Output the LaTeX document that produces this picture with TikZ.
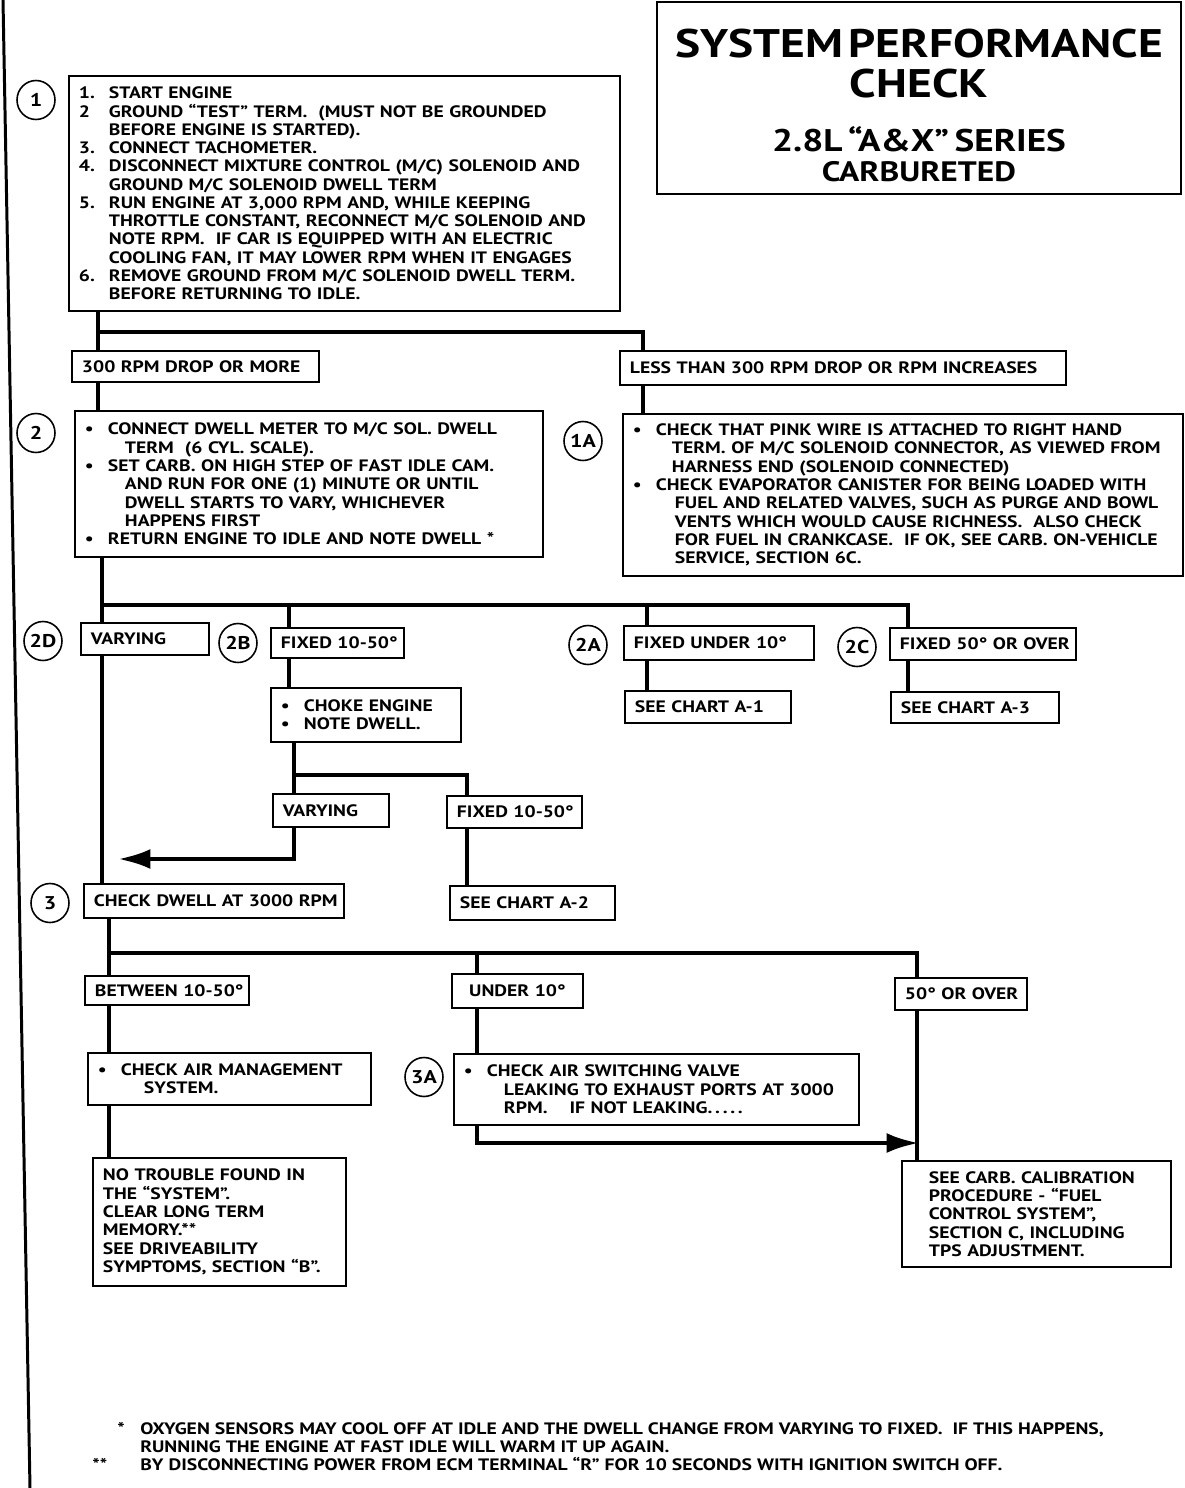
\documentclass[tikz,border=0pt]{standalone}
\usepackage{fontspec}
\setmainfont{PT Sans}[FakeStretch=1.19]
\usetikzlibrary{arrows.meta,shapes.geometric}

\newcommand{\chartfont}{\bfseries\fontsize{9.4}{10.4}\selectfont}
\newcommand{\nr}[1]{\makebox[0.6cm][l]{#1}}
\newcommand{\bul}{\makebox[0.46cm][l]{\textbullet}}

\begin{document}
\begin{tikzpicture}[x=0.02cm, y=-0.02cm, every node/.style={font=\chartfont}, >={Latex[length=6.5mm,width=4mm]},
	box/.style={draw, line width=1.1pt, anchor=north west, inner xsep=0.2cm, inner ysep=0.1cm, align=left},
	tag/.style={draw, ellipse, line width=0.9pt, minimum width=0.76cm, minimum height=0.78cm, inner sep=0pt, font=\bfseries\fontsize{10.5}{10.5}\selectfont},
	flow/.style={line width=2.6pt}]
	\useasboundingbox[fill=white] (0,0) rectangle (1184,1488);
	\draw[line width=1.7pt] (3,0) -- (30,1488);
	% title
	\node[draw, line width=0.9pt, minimum width=10.48cm, minimum height=3.84cm, text width=10cm, align=center] (title) at (919,98)
		{{\fontsize{22.7}{23}\selectfont \rule{0pt}{24.5pt}SYSTEM PERFORMANCE\\CHECK\par}\vspace{13pt}
		{\fontsize{17.8}{17.8}\selectfont 2.8L “A\&X” SERIES\par}
		{\fontsize{16}{17}\selectfont CARBURETED\par}};
	% step 1
	\node[box, text width=10.62cm, minimum height=4.70cm] (b1) at (68,75)
		{\nr{1.}START ENGINE\\
		\nr{2}GROUND “TEST” TERM.\ \ (MUST NOT BE GROUNDED\\
		\nr{}BEFORE ENGINE IS STARTED).\\
		\nr{3.}CONNECT TACHOMETER.\\
		\nr{4.}DISCONNECT MIXTURE CONTROL (M/C) SOLENOID AND\\
		\nr{}GROUND M/C SOLENOID DWELL TERM\\
		\nr{5.}RUN ENGINE AT 3,000 RPM AND, WHILE KEEPING\\
		\nr{}THROTTLE CONSTANT, RECONNECT M/C SOLENOID AND\\
		\nr{}NOTE RPM.\ \ IF CAR IS EQUIPPED WITH AN ELECTRIC\\
		\nr{}COOLING FAN, IT MAY LOWER RPM WHEN IT ENGAGES\\
		\nr{6.}REMOVE GROUND FROM M/C SOLENOID DWELL TERM.\\
		\nr{}BEFORE RETURNING TO IDLE.};
	\node[box, text width=4.54cm, minimum height=0.62cm] (drop) at (71,350) {\mbox{300 RPM DROP OR MORE}};
	\node[box, text width=8.52cm, minimum height=0.68cm] (less) at (619,350) {\mbox{LESS THAN 300 RPM DROP OR RPM INCREASES}};
	% step 2 and 1A
	\node[box, text width=8.96cm, minimum height=2.92cm] (b2) at (74,410)
		{\bul CONNECT DWELL METER TO M/C SOL. DWELL\\
		\hspace*{0.8cm}TERM\ \ (6 CYL. SCALE).\\
		\bul SET CARB. ON HIGH STEP OF FAST IDLE CAM.\\
		\hspace*{0.8cm}AND RUN FOR ONE (1) MINUTE OR UNTIL\\
		\hspace*{0.8cm}DWELL STARTS TO VARY, WHICHEVER\\
		\hspace*{0.8cm}HAPPENS FIRST\\
		\bul RETURN ENGINE TO IDLE AND NOTE DWELL *};
	\node[box, text width=10.80cm, minimum height=3.24cm] (b1a) at (622,413)
		{\bul CHECK THAT PINK WIRE IS ATTACHED TO RIGHT HAND\\
		\hspace*{0.78cm}\mbox{TERM. OF M/C SOLENOID CONNECTOR, AS VIEWED FROM}\\
		\hspace*{0.78cm}HARNESS END (SOLENOID CONNECTED)\\
		\bul CHECK EVAPORATOR CANISTER FOR BEING LOADED WITH\\
		\hspace*{0.84cm}\mbox{FUEL AND RELATED VALVES, SUCH AS PURGE AND BOWL}\\
		\hspace*{0.84cm}VENTS WHICH WOULD CAUSE RICHNESS.\ \ ALSO CHECK\\
		\hspace*{0.84cm}\mbox{FOR FUEL IN CRANKCASE.\ \ IF OK, SEE CARB. ON-VEHICLE}\\
		\hspace*{0.84cm}SERVICE, SECTION 6C.};
	% dwell results
	\node[box, text width=2.16cm, minimum height=0.64cm] (var1) at (80,622) {\mbox{VARYING}};
	\node[box, text width=2.26cm, minimum height=0.60cm] (fix1) at (270,627) {\mbox{FIXED 10-50°}};
	\node[box, text width=3.40cm, minimum height=0.68cm] (undr1) at (623,625) {\mbox{FIXED UNDER 10°}};
	\node[box, text width=3.32cm, minimum height=0.64cm] (over1) at (889,627) {\mbox{FIXED 50° OR OVER}};
	\node[box, text width=3.40cm, minimum height=1.08cm] (choke) at (270,687) {\bul CHOKE ENGINE\\\bul NOTE DWELL.};
	\node[box, text width=2.92cm, minimum height=0.64cm] (chA1) at (624,690) {\mbox{SEE CHART A-1}};
	\node[box, text width=2.96cm, minimum height=0.62cm] (chA3) at (890,691) {\mbox{SEE CHART A-3}};
	\node[box, text width=1.92cm, minimum height=0.66cm] (var2) at (272,793) {\mbox{VARYING}};
	\node[box, text width=2.30cm, minimum height=0.64cm] (fix2) at (446,795) {\mbox{FIXED 10-50°}};
	\node[box, text width=2.90cm, minimum height=0.68cm] (chA2) at (449,885) {\mbox{SEE CHART A-2}};
	% step 3
	\node[box, text width=4.80cm, minimum height=0.68cm] (dwell) at (83,883) {\mbox{CHECK DWELL AT 3000 RPM}};
	\node[box, text width=2.88cm, minimum height=0.58cm] (betw) at (84,975) {\mbox{BETWEEN 10-50°}};
	\node[box, text width=2.22cm, minimum height=0.68cm, align=center] (undr2) at (451,973) {\mbox{UNDER 10°}};
	\node[box, text width=2.24cm, minimum height=0.64cm, align=center] (over2) at (894,977) {\mbox{50° OR OVER}};
	\node[box, text width=5.26cm, minimum height=1.04cm] (airm) at (87,1052) {\bul CHECK AIR MANAGEMENT\\\hspace*{0.92cm}SYSTEM.};
	\node[box, text width=7.70cm, minimum height=1.42cm] (airsw) at (453,1053)
		{\bul CHECK AIR SWITCHING VALVE\\
		\hspace*{0.8cm}LEAKING TO EXHAUST PORTS AT 3000\\
		\hspace*{0.8cm}RPM.\ \ \ \ IF NOT LEAKING.\,.\,.\,.\,.};
	\node[box, text width=4.66cm, minimum height=2.56cm] (notr) at (92,1157)
		{NO TROUBLE FOUND IN\\THE “SYSTEM”.\\CLEAR LONG TERM\\MEMORY.**\\SEE DRIVEABILITY\\SYMPTOMS, SECTION “B”.};
	\node[box, text width=4.3cm, minimum width=5.38cm, minimum height=2.12cm] (carb) at (901,1160)
		{SEE CARB. CALIBRATION\\PROCEDURE - “FUEL\\CONTROL SYSTEM”,\\SECTION C, INCLUDING\\TPS ADJUSTMENT.};
	% step tags
	\node[tag] (t1) at (36,100) {1};
	\node[tag] (t2) at (36,433) {2};
	\node[tag] (t1a) at (583,441) {1A};
	\node[tag] (t2d) at (43,641) {2D};
	\node[tag] (t2b) at (238,643) {2B};
	\node[tag] (t2a) at (588,645) {2A};
	\node[tag] (t2c) at (857,647) {2C};
	\node[tag] (t3) at (50,903) {3};
	\node[tag] (t3a) at (424,1077) {3A};
	% footnotes
	\node[anchor=north west, inner sep=0pt, align=left] (notes) at (92,1422)
		{\makebox[0.96cm][l]{\hspace{0.5cm}*}OXYGEN SENSORS MAY COOL OFF AT IDLE AND THE DWELL CHANGE FROM VARYING TO FIXED.\ \ IF THIS HAPPENS,\\
		\hspace*{0.96cm}RUNNING THE ENGINE AT FAST IDLE WILL WARM IT UP AGAIN.\\
		\makebox[0.96cm][l]{**}BY DISCONNECTING POWER FROM ECM TERMINAL “R” FOR 10 SECONDS WITH IGNITION SWITCH OFF.};
	% split points
	\coordinate (s1) at (98,332); \coordinate (s1r) at (643,332);
	\coordinate (s2) at (102,605); \coordinate (s2r) at (908,605);
	\coordinate (d2b) at (289,605); \coordinate (d2a) at (647,605);
	\coordinate (s3) at (294,775); \coordinate (s3r) at (467,775);
	\coordinate (tipL) at (118,859);
	\coordinate (s4) at (109,953); \coordinate (s4r) at (917,953);
	\coordinate (d3) at (477,953);
	\coordinate (tipR) at (919,1143);
	% connectors
	\draw[flow] (b1.south -| s1) -- (drop.north -| s1);
	\draw[flow] (s1) -- (s1r) -- (less.north -| s1r);
	\draw[flow] (drop.south -| s1) -- (b2.north -| s1);
	\draw[flow] (less.south -| s1r) -- (b1a.north -| s1r);
	\draw[flow] (b2.south -| s2) -- (var1.north -| s2);
	\draw[flow] (s2) -- (s2r) -- (over1.north -| s2r);
	\draw[flow] (d2b) -- (fix1.north -| d2b);
	\draw[flow] (d2a) -- (undr1.north -| d2a);
	\draw[flow] (var1.south -| s2) -- (dwell.north -| s2);
	\draw[flow] (fix1.south -| d2b) -- (choke.north -| d2b);
	\draw[flow] (undr1.south -| d2a) -- (chA1.north -| d2a);
	\draw[flow] (over1.south -| s2r) -- (chA3.north -| s2r);
	\draw[flow] (choke.south -| s3) -- (var2.north -| s3);
	\draw[flow] (s3) -- (s3r) -- (fix2.north -| s3r);
	\draw[flow, ->] (var2.south -| s3) |- (tipL);
	\draw[flow] (fix2.south -| s3r) -- (chA2.north -| s3r);
	\draw[flow] (dwell.south -| s4) -- (betw.north -| s4);
	\draw[flow] (s4) -- (s4r) -- (over2.north -| s4r);
	\draw[flow] (d3) -- (undr2.north -| d3);
	\draw[flow] (betw.south -| s4) -- (airm.north -| s4);
	\draw[flow] (airm.south -| s4) -- (notr.north -| s4);
	\draw[flow] (undr2.south -| d3) -- (airsw.north -| d3);
	\draw[flow, ->] (airsw.south -| d3) |- (tipR);
	\draw[flow] (over2.south -| s4r) -- (carb.north -| s4r);
\end{tikzpicture}
\end{document}
